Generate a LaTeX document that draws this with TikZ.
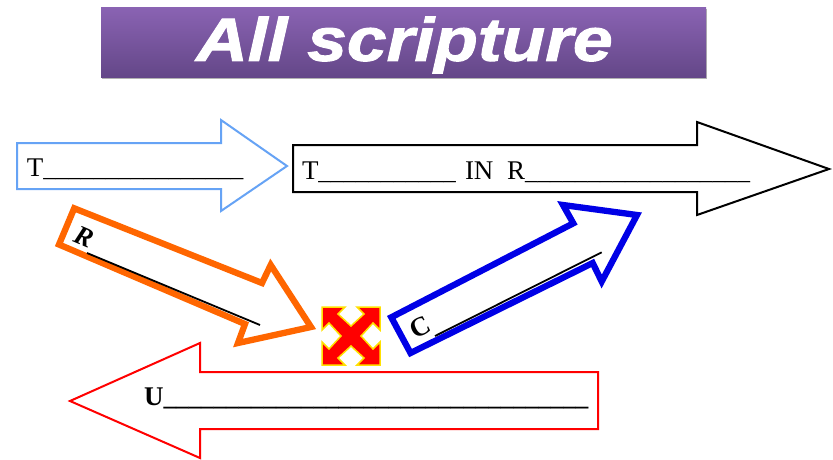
\documentclass[tikz,border=0pt]{standalone}
\usepackage{fontspec}
\setmainfont{Liberation Serif}
\newfontfamily\titlefont[FakeStretch=1.17,FakeBold=1.6]{Liberation Sans}
\newcommand{\blanks}[1]{{\fontsize{25pt}{25pt}\selectfont\foreach \n in {1,...,#1}{\_}}}

\begin{document}
\begin{tikzpicture}[x=1pt,y=-1pt,
  label text/.style={inner sep=0, outer sep=0, black, anchor=base west, font=\fontsize{27pt}{27pt}\selectfont},
  bold text/.style={label text, font=\fontsize{27pt}{27pt}\bfseries\selectfont},
  thin arrow/.style={line width=2.0pt, fill=white},
  thick arrow/.style={line width=6.3pt, fill=white},
  blank line/.style={line width=1.8pt, black}]
\useasboundingbox (0,0) rectangle (833,459);
\definecolor{custcol_sky}{RGB}{102, 163, 245}
\definecolor{custcol_orange}{RGB}{255, 102, 0}
\definecolor{custcol_blue}{RGB}{0, 0, 230}
\definecolor{custcol_red}{RGB}{255, 0, 0}
\definecolor{custcol_yellow}{RGB}{255, 225, 0}
\definecolor{custcol_top}{RGB}{138, 99, 179}
\definecolor{custcol_bottom}{RGB}{100, 71, 136}
% title bar
\fill [black!30]  (102.0,9.0) rectangle (707.0,79.0) ;
\shade [top color=custcol_top, bottom color=custcol_bottom]  (101.0,7.0) rectangle (706.0,77.0) ;
\node [inner sep=0, outer sep=0, white, font=\fontsize{61pt}{61pt}\titlefont\bfseries\itshape\selectfont] (title) at (404.5,45.0) {All scripture};
% arrows
\draw [thin arrow, draw=custcol_sky]  (17.0,143.0) -- (221.0,143.0) -- (221.0,120.0) -- (287.0,166.0) -- (221.0,211.0) -- (221.0,189.0) -- (17.0,189.0) -- cycle ;
\draw [thin arrow, draw=black]  (293.0,145.0) -- (697.0,145.0) -- (697.0,122.0) -- (829.0,169.0) -- (697.0,215.0) -- (697.0,192.0) -- (293.0,192.0) -- cycle ;
\draw [thin arrow, draw=custcol_red]  (598.0,372.0) -- (200.0,372.0) -- (200.0,343.0) -- (70.0,401.0) -- (200.0,458.0) -- (200.0,429.0) -- (598.0,429.0) -- cycle ;
\draw [thick arrow, draw=custcol_orange]  (74.2,208.3) -- (262.0,283.0) -- (270.7,265.0) -- (311.0,327.0) -- (238.0,343.0) -- (245.0,324.0) -- (59.0,244.5) -- cycle ;
\draw [thick arrow, draw=custcol_blue]  (391.3,317.3) -- (573.3,223.3) -- (563.0,205.0) -- (637.0,215.0) -- (601.7,281.5) -- (592.7,263.0) -- (410.5,353.0) -- cycle ;
% cross
\draw [line width=1.5pt, draw=custcol_yellow, fill=custcol_red, shift={(351.0,336.0)}]  (-29,-29) -- (-6,-29) -- (-13,-22) -- (0,-10) -- (13,-22) -- (6,-29) -- (29,-29) -- (29,-6) -- (22,-13) -- (10,0) -- (22,13) -- (29,6) -- (29,29) -- (6,29) -- (13,22) -- (0,10) -- (-13,22) -- (-6,29) -- (-29,29) -- (-29,6) -- (-22,13) -- (-10,0) -- (-22,-13) -- (-29,-6) -- cycle ;
% labels
\node [label text] (faith) at (27.0,176.5) {T\blanks{16}};
\node [label text] (truth) at (302.0,179.5) {T\blanks{11}};
\node [label text] (inword) at (465.0,179.5) {IN};
\node [label text] (rest) at (507.0,179.5) {R\blanks{18}};
\node [bold text] (under) at (144.0,405.5) {U\blanks{34}};
\node [bold text, rotate=-23, font=\fontsize{27pt}{27pt}\bfseries\itshape\selectfont] (reveal) at (72.6,241.9) {R};
\node [bold text, rotate=27] (correct) at (415.0,339.0) {C};
\coordinate (reveal start) at (87.0,253.0);
\coordinate (reveal end) at (260.0,325.0);
\coordinate (correct start) at (435.0,336.0);
\coordinate (correct end) at (601.7,252.3);
\draw [blank line] (reveal start) -- (reveal end);
\draw [blank line] (correct start) -- (correct end);
\end{tikzpicture}
\end{document}
